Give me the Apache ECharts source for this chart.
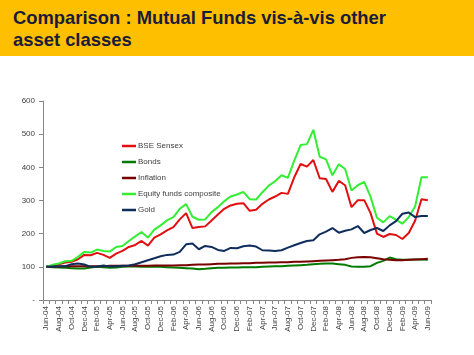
<!DOCTYPE html>
<html><head><meta charset="utf-8">
<script src="https://cdn.jsdelivr.net/npm/echarts@6/dist/echarts.min.js"></script>
<style>
html,body{margin:0;padding:0;background:#fff;}
#banner{position:absolute;left:0;top:0;width:474px;height:56px;background:#FDBF00;}
#banner div{position:absolute;left:13px;top:7px;font-family:"Liberation Sans",Arial,sans-serif;font-weight:bold;font-size:18.4px;line-height:22px;color:#1B1B3A;}
#chart{position:absolute;left:0;top:0;width:474px;height:355px;}
</style></head><body>
<div id="banner"><div>Comparison : Mutual Funds vis-à-vis other<br>asset classes</div></div>
<div id="chart"></div>
<script>
const months = ["Jun-04","Jul-04","Aug-04","Sep-04","Oct-04","Nov-04","Dec-04","Jan-05","Feb-05","Mar-05","Apr-05","May-05","Jun-05","Jul-05","Aug-05","Sep-05","Oct-05","Nov-05","Dec-05","Jan-06","Feb-06","Mar-06","Apr-06","May-06","Jun-06","Jul-06","Aug-06","Sep-06","Oct-06","Nov-06","Dec-06","Jan-07","Feb-07","Mar-07","Apr-07","May-07","Jun-07","Jul-07","Aug-07","Sep-07","Oct-07","Nov-07","Dec-07","Jan-08","Feb-08","Mar-08","Apr-08","May-08","Jun-08","Jul-08","Aug-08","Sep-08","Oct-08","Nov-08","Dec-08","Jan-09","Feb-09","Mar-09","Apr-09","May-09","Jun-09"];
const seriesNames = ["BSE Sensex","Bonds","Inflation","Equity funds composite","Gold"];
const sensex = [100,104,108,113,115,123,136,135,142,136,127,140,148,160,166,178,164,188,198,210,220,243,262,217,220,222,240,258,275,285,290,292,269,272,290,303,312,323,320,370,410,402,422,367,365,326,359,346,280,301,301,262,200,190,199,196,184,202,239,304,301];
const bonds = [100,99,98,97,96,95,95,98,100,99,97,98,100,101,101,100,100,100,100,99,98,97,96,95,93,94,96,97,97,98,98,99,99,99,100,101,102,102,103,104,105,106,108,109,110,110,108,106,101,100,100,102,112,118,128,123,121,121,122,122,121];
const inflation = [100,101,101,102,102,102,102,102,102,102,103,103,103,103,103,103,103,104,104,104,104,105,105,106,107,107,108,109,109,110,110,111,111,112,112,113,113,114,114,115,115,116,117,118,119,120,121,123,127,129,130,129,126,123,121,120,120,121,122,123,124];
const equityFunds = [100,106,110,117,118,130,145,143,152,148,146,160,163,178,192,205,188,212,225,240,250,275,289,251,242,243,265,280,298,312,318,326,304,303,325,345,358,376,368,420,467,470,513,432,424,376,409,395,330,346,356,311,248,234,253,242,230,250,282,370,370];
const gold = [100,101,102,102,108,110,107,100,101,104,101,102,103,104,108,114,120,126,132,136,137,145,168,170,153,163,160,151,148,157,156,162,164,161,150,149,148,150,158,165,172,178,180,198,206,217,203,209,213,223,202,211,217,208,225,238,260,264,250,253,253];
const yTicks = [0,100,200,300,400,500,600];
const colors = ["#E01010","#007A00","#7A0000","#33EE33","#0F2D5C"];
const dataList = [sensex,bonds,inflation,equityFunds,gold];

const chart = echarts.init(document.getElementById('chart'), null, {renderer:'canvas'});
const font = '"Liberation Sans", Arial, sans-serif';
chart.setOption({
  animation:false,
  backgroundColor:'transparent',
  textStyle:{fontFamily:font},
  grid:{left:43,right:43,top:101,bottom:55,containLabel:false},
  legend:{
    orient:'vertical', left:122, top:141, itemGap:6, padding:0,
    itemWidth:14, itemHeight:10,
    data: seriesNames.map((n,i)=>({name:n, icon:'path://M0,4 L14,4 L14,6.5 L0,6.5 Z'})),
    textStyle:{fontSize:8, color:'#404040', fontFamily:font, height:10, lineHeight:10, padding:[0,0,0,-3]},
    selectedMode:false
  },
  xAxis:{
    type:'category', data:months, boundaryGap:true,
    axisLine:{lineStyle:{color:'#868686',width:1}},
    axisTick:{show:true, interval:0, length:4, lineStyle:{color:'#868686'}},
    axisLabel:{interval:1, rotate:90, fontSize:8, color:'#404040', fontFamily:font, margin:6},
    splitLine:{show:false}
  },
  yAxis:{
    type:'value', min:yTicks[0], max:yTicks[yTicks.length-1], interval:100,
    axisLine:{show:true, lineStyle:{color:'#868686',width:1}},
    axisTick:{show:true, length:4, lineStyle:{color:'#868686'}},
    axisLabel:{fontSize:8, color:'#404040', fontFamily:font, margin:8,
      formatter:v=> v===0 ? '-' : String(v)},
    splitLine:{show:false}
  },
  series: seriesNames.map((n,i)=>({
    name:n, type:'line', data:dataList[i], showSymbol:false, symbol:'none',
    lineStyle:{color:colors[i], width:2}, itemStyle:{color:colors[i]},
    z: 2+i
  }))
});
</script></body></html>
